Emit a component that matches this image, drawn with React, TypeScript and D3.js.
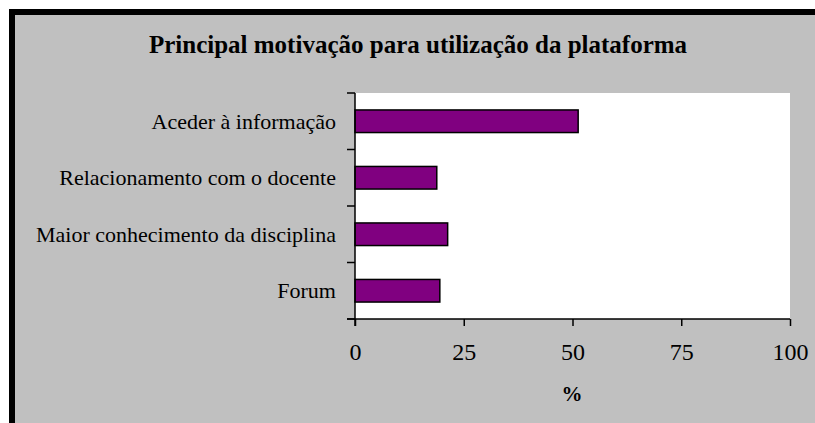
import React, { useRef, useEffect } from 'react';
import * as d3 from 'd3';

const categories = [
  'Aceder à informação',
  'Relacionamento com o docente',
  'Maior conhecimento da disciplina',
  'Forum',
];
const values = [51.3, 18.8, 21.3, 19.5];
const xTicks = [0, 25, 50, 75, 100];

const title = 'Principal motivação para utilização da plataforma';
const xTitle = '%';

const App = () => {
  const svgRef = useRef<SVGSVGElement>(null);

  useEffect(() => {
    const svg = d3.select(svgRef.current);
    svg.selectAll('*').remove();

    const w = 815;
    const h = 423;
    const font = '"Liberation Serif", "Times New Roman", serif';

    // background + black frame (frame runs off the right/bottom edge)
    svg.append('rect').attr('width', w).attr('height', h).attr('fill', '#fff');
    svg.append('rect')
      .attr('x', 12).attr('y', 12)
      .attr('width', w + 20).attr('height', h + 20)
      .attr('fill', '#c0c0c0')
      .attr('stroke', '#000')
      .attr('stroke-width', 6);

    const left = 355;
    const right = 790;
    const top = 93;
    const bottom = 319;

    const x = d3.scaleLinear().domain([0, 100]).range([left, right]);
    const y = d3.scaleBand().domain(categories).range([top, bottom]).paddingInner(0.6).paddingOuter(0.3);
    const yBand = d3.scaleBand().domain(categories).range([top, bottom]);

    // plot area
    svg.append('rect')
      .attr('x', left).attr('y', top)
      .attr('width', right - left).attr('height', bottom - top)
      .attr('fill', '#fff');

    // title
    svg.append('text')
      .attr('x', 418).attr('y', 53)
      .attr('text-anchor', 'middle')
      .style('font-family', font)
      .style('font-size', '25px')
      .style('font-weight', 'bold')
      .text(title);

    // bars
    svg.selectAll('rect.bar')
      .data(values)
      .join('rect')
      .attr('class', 'bar')
      .attr('x', x(0))
      .attr('y', (_, i) => y(categories[i]) as number)
      .attr('width', d => x(d) - x(0))
      .attr('height', y.bandwidth())
      .attr('fill', '#800080')
      .attr('stroke', '#000')
      .attr('stroke-width', 1.5);

    // y axis: line + ticks at band boundaries
    const yAxis = svg.append('g');
    yAxis.append('line')
      .attr('x1', left).attr('x2', left)
      .attr('y1', top).attr('y2', bottom + 7)
      .attr('stroke', '#000').attr('stroke-width', 1.5);
    const bounds = categories.map(c => yBand(c) as number).concat([bottom]);
    yAxis.selectAll('line.tick')
      .data(bounds)
      .join('line')
      .attr('class', 'tick')
      .attr('x1', left - 8).attr('x2', left)
      .attr('y1', d => d).attr('y2', d => d)
      .attr('stroke', '#000').attr('stroke-width', 1.5);
    yAxis.selectAll('text')
      .data(categories)
      .join('text')
      .attr('x', 336)
      .attr('y', d => (yBand(d) as number) + yBand.bandwidth() / 2)
      .attr('dy', '0.35em')
      .attr('text-anchor', 'end')
      .style('font-family', font)
      .style('font-size', '22px')
      .text(d => d);

    // x axis
    const xAxis = svg.append('g')
      .attr('transform', `translate(0,${bottom})`)
      .call(d3.axisBottom(x).tickValues(xTicks).tickSize(7).tickSizeOuter(0).tickPadding(17));
    xAxis.select('.domain').attr('stroke', '#000').attr('stroke-width', 1.5)
      .attr('d', `M${left - 8},0H${right}`);
    xAxis.selectAll('.tick line').attr('stroke', '#000').attr('stroke-width', 1.5);
    xAxis.selectAll('.tick text')
      .style('font-family', font)
      .style('font-size', '24px')
      .attr('fill', '#000');

    svg.append('text')
      .attr('x', 572).attr('y', 401)
      .attr('text-anchor', 'middle')
      .style('font-family', font)
      .style('font-size', '21px')
      .style('font-weight', 'bold')
      .text(xTitle);
  }, []);

  return (
    <svg
      ref={svgRef}
      width={815}
      height={423}
      style={{ position: 'absolute', left: 0, top: 0 }}
    ></svg>
  );
};

export default App;
